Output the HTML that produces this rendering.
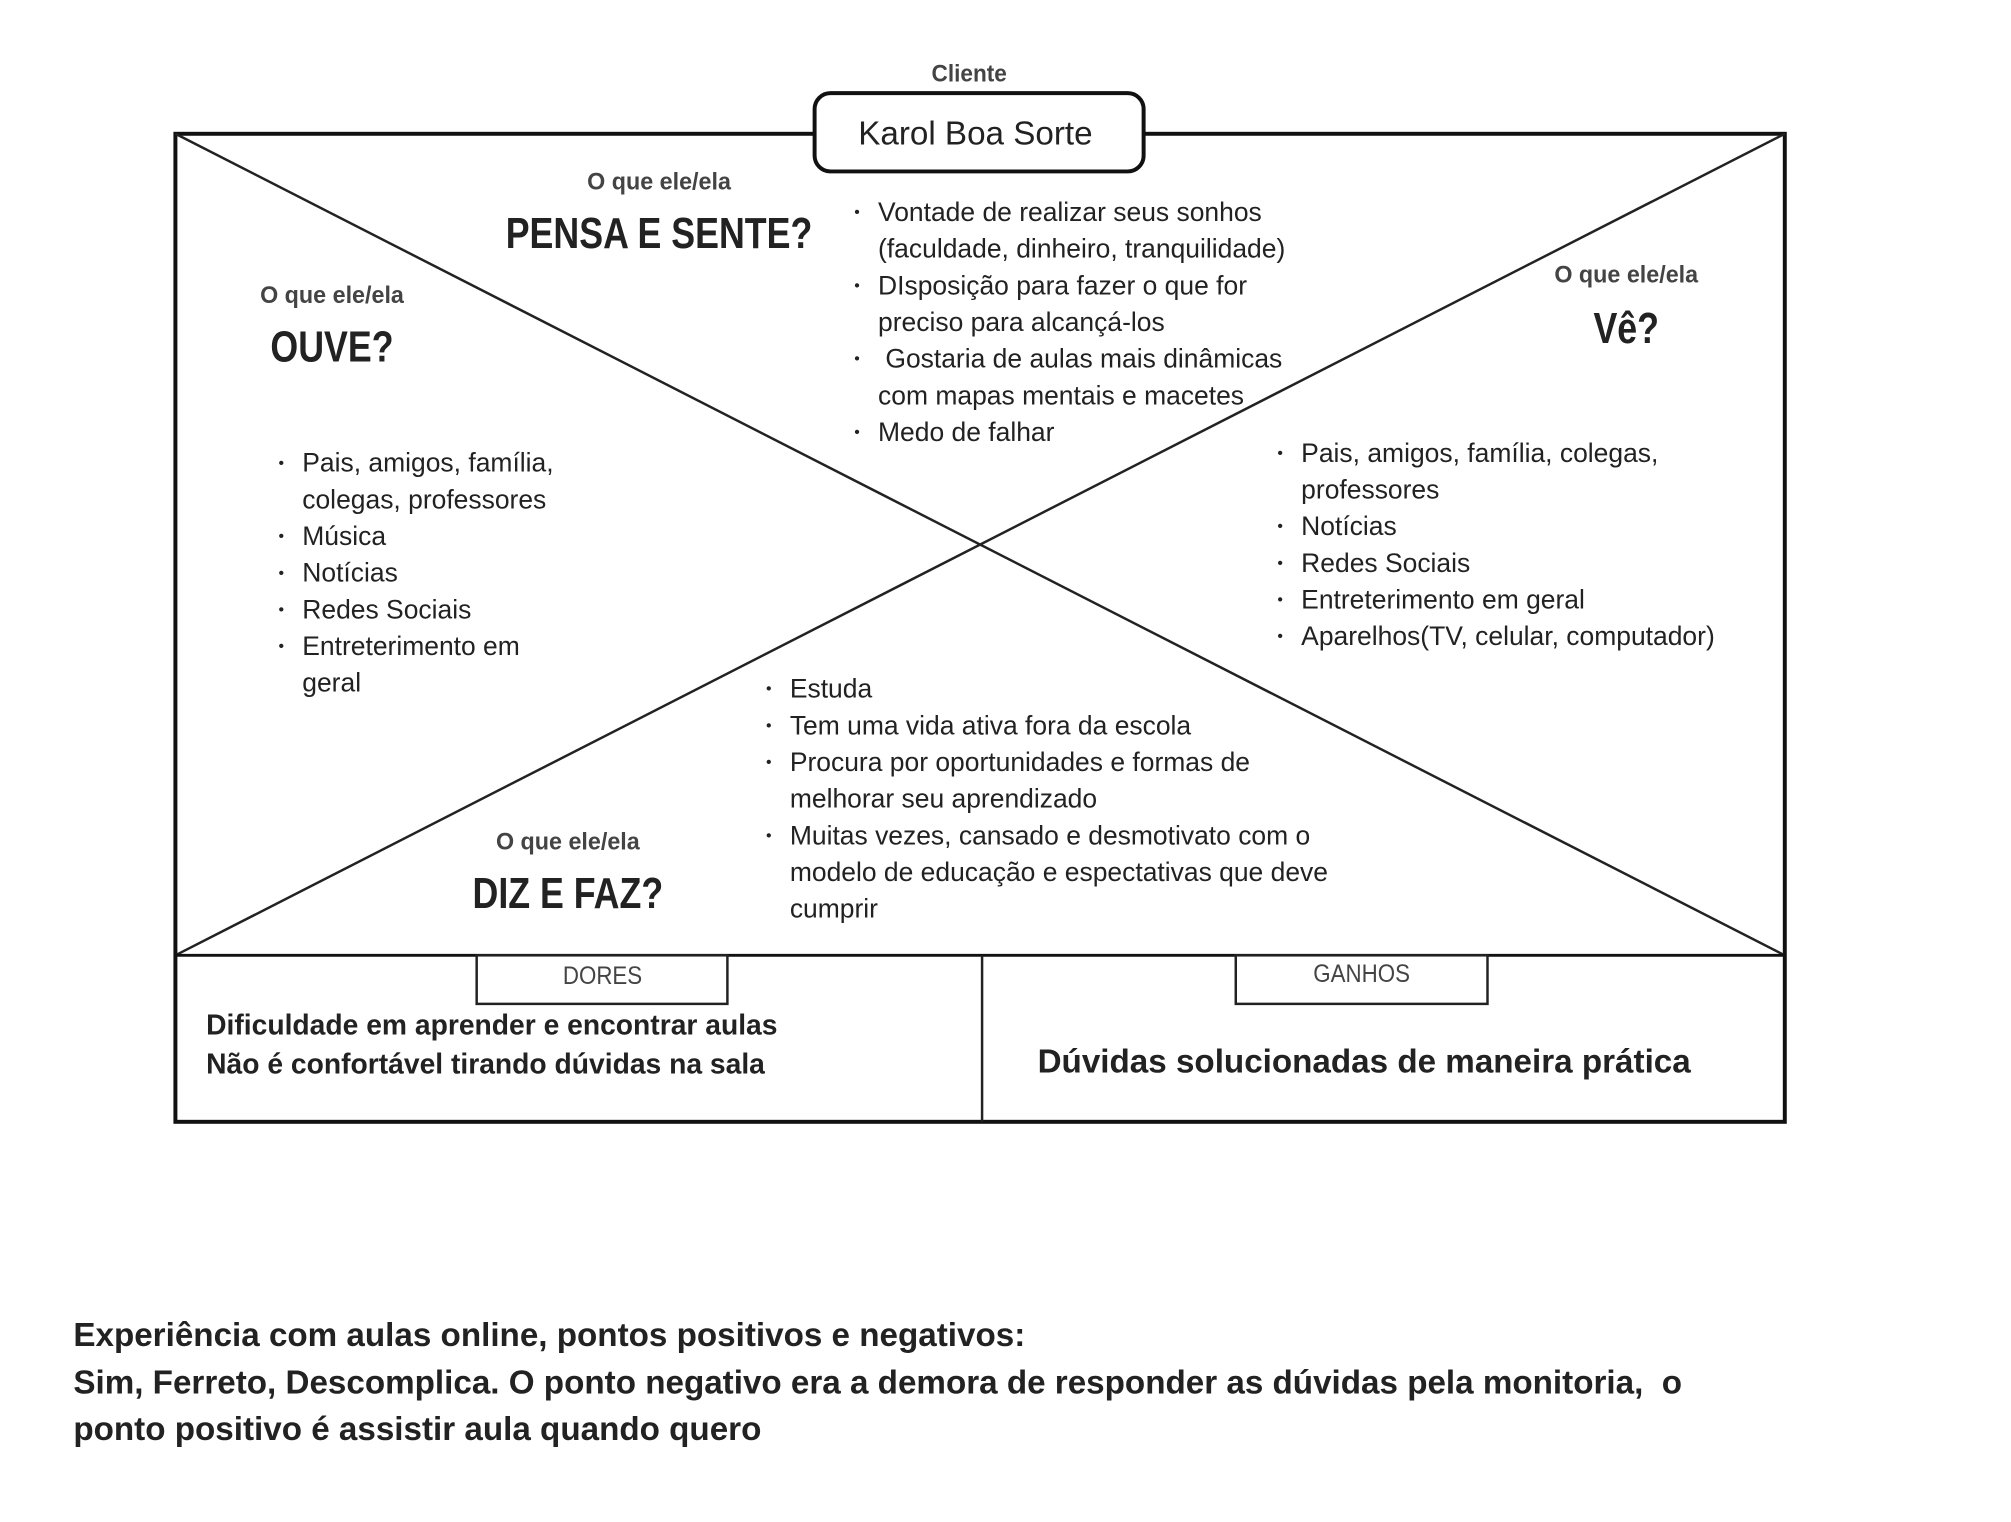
<!DOCTYPE html>
<html><head><meta charset="utf-8"><style>
body{margin:0;background:#fff;width:2011px;height:1522px;position:relative;overflow:hidden;font-family:"Liberation Sans",sans-serif;color:#222}
#w{position:absolute;left:0;top:0;width:2011px;height:1522px;transform:scale(0.991);transform-origin:0 0}
.a{position:absolute;white-space:nowrap}
.lab{position:absolute;transform:translateX(-50%) scaleX(0.82);white-space:nowrap;color:#333}
.small{font-size:24px;font-weight:bold;color:#444;transform:translateX(-50%) scaleX(0.98)}
.big{font-size:44px;font-weight:bold;color:#222}
ul{position:absolute;margin:0;padding:0;list-style:none;font-size:26.7px;line-height:37px;color:#222}
li{position:relative;padding-left:24px;white-space:nowrap}
li:before{content:"•";position:absolute;left:0;font-size:16px}
.b{font-weight:bold;color:#222}
</style></head><body><div id="w">
<svg width="2011" height="1522" style="position:absolute;left:0;top:0">
<rect x="177" y="135" width="1624" height="997" fill="none" stroke="#111" stroke-width="4"/>
<line x1="177" y1="135" x2="1801" y2="964" stroke="#222" stroke-width="2.5"/>
<line x1="1801" y1="135" x2="177" y2="964" stroke="#222" stroke-width="2.5"/>
<line x1="177" y1="964" x2="1801" y2="964" stroke="#111" stroke-width="3"/>
<line x1="991" y1="964" x2="991" y2="1132" stroke="#222" stroke-width="2.5"/>
<rect x="822" y="94" width="332" height="79" rx="16" fill="#fff" stroke="#111" stroke-width="4"/>
<rect x="481" y="964" width="253" height="49" fill="#fff" stroke="#222" stroke-width="2.5"/>
<rect x="1247" y="964" width="254" height="49" fill="#fff" stroke="#222" stroke-width="2.5"/>
</svg>
<div class="lab small" style="left:978px;top:61px;font-size:24px;transform:translateX(-50%) scaleX(0.95)">Cliente</div>
<div class="a" style="left:866px;top:117px;font-size:33.5px;color:#222">Karol Boa Sorte</div>
<div class="lab small" style="left:665px;top:170px">O que ele/ela</div>
<div class="lab big" style="left:665px;top:211px">PENSA E SENTE?</div>
<div class="lab small" style="left:335px;top:285px">O que ele/ela</div>
<div class="lab big" style="left:335px;top:326px">OUVE?</div>
<div class="lab small" style="left:1641px;top:264px">O que ele/ela</div>
<div class="lab big" style="left:1641px;top:307px">Vê?</div>
<div class="lab small" style="left:573px;top:836px">O que ele/ela</div>
<div class="lab big" style="left:573px;top:877px">DIZ E FAZ?</div>
<ul style="left:862px;top:196px">
<li>Vontade de realizar seus sonhos<br>(faculdade, dinheiro, tranquilidade)</li>
<li>DIsposição para fazer o que for<br>preciso para alcançá-los</li>
<li>&nbsp;Gostaria de aulas mais dinâmicas<br>com mapas mentais e macetes</li>
<li>Medo de falhar</li></ul>
<ul style="left:281px;top:449px">
<li>Pais, amigos, família,<br>colegas, professores</li>
<li>Música</li><li>Notícias</li><li>Redes Sociais</li>
<li>Entreterimento em<br>geral</li></ul>
<ul style="left:1289px;top:439px">
<li>Pais, amigos, família, colegas,<br>professores</li>
<li>Notícias</li><li>Redes Sociais</li><li>Entreterimento em geral</li>
<li>Aparelhos(TV, celular, computador)</li></ul>
<ul style="left:773px;top:677px">
<li>Estuda</li><li>Tem uma vida ativa fora da escola</li>
<li>Procura por oportunidades e formas de<br>melhorar seu aprendizado</li>
<li>Muitas vezes, cansado e desmotivato com o<br>modelo de educação e espectativas que deve<br>cumprir</li></ul>
<div class="lab" style="left:608px;top:971px;font-size:25px;color:#444;transform:translateX(-50%) scaleX(0.9)">DORES</div>
<div class="lab" style="left:1374px;top:969px;font-size:25px;color:#444;transform:translateX(-50%) scaleX(0.9)">GANHOS</div>
<div class="a b" style="left:208px;top:1016px;font-size:28.5px;line-height:39px">Dificuldade em aprender e encontrar aulas<br>Não é confortável tirando dúvidas na sala</div>
<div class="a b" style="left:1047px;top:1053px;font-size:33.5px">Dúvidas solucionadas de maneira prática</div>
<div class="a b" style="left:74px;top:1324px;font-size:33.5px;line-height:47.5px">Experiência com aulas online, pontos positivos e negativos:<br>Sim, Ferreto, Descomplica. O ponto negativo era a demora de responder as dúvidas pela monitoria,&nbsp; o<br>ponto positivo é assistir aula quando quero</div>
</div></body></html>
